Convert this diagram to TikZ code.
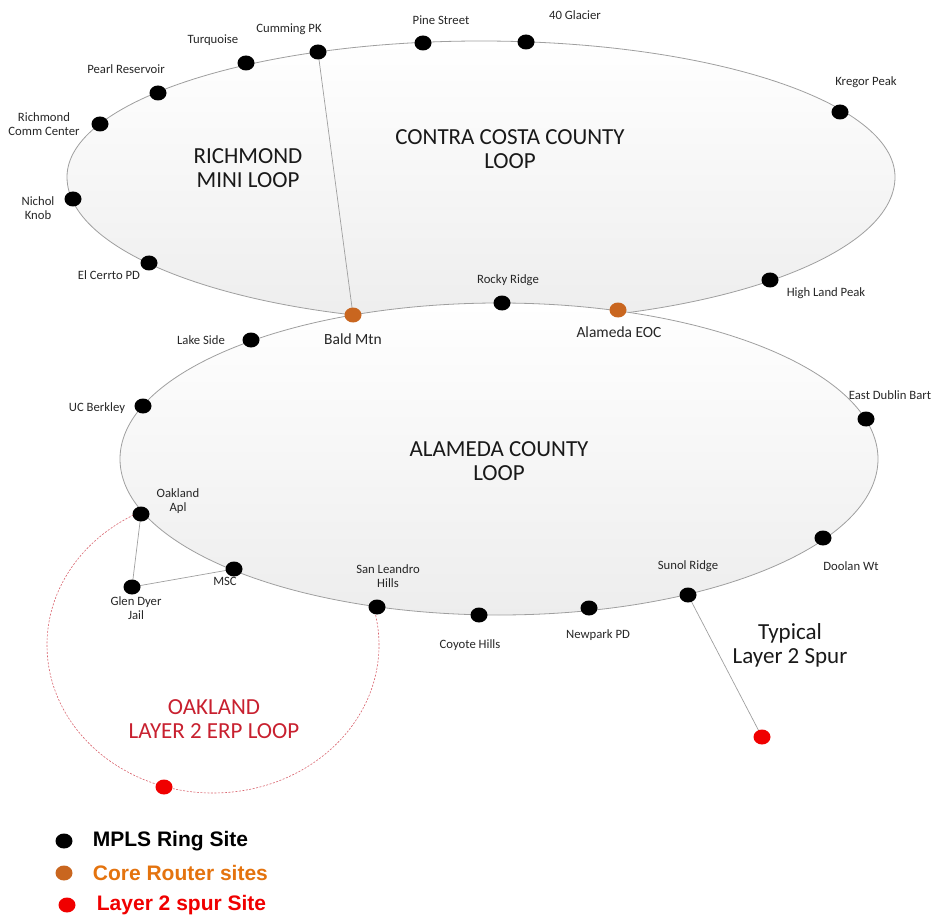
\documentclass[tikz,border=0pt]{standalone}
\usepackage{fontspec}
\setmainfont{Carlito}
\newfontfamily\legendfont{Liberation Sans}
\usetikzlibrary{shapes.geometric,positioning}

\definecolor{coreorange}{HTML}{C9661F}
\definecolor{legorange}{HTML}{E4730E}
\definecolor{erpred}{HTML}{C8202F}
\definecolor{spurred}{HTML}{F00000}

\tikzset{
  site/.style={ellipse, fill=black, minimum width=17pt, minimum height=15pt, inner sep=0pt},
  core/.style={site, fill=coreorange},
  spur/.style={site, fill=spurred},
  lbl/.style={align=center, text=black!85, inner sep=0pt, font=\fontsize{12.7}{13.5}\selectfont},
  lblcore/.style={lbl, font=\fontsize{15.5}{17}\selectfont},
  big/.style={align=center, text=black!90, inner sep=0pt, font=\fontsize{23}{24}\selectfont},
  ringarea/.style={draw=gray!75, line width=0.8pt, top color=white, bottom color=gray!14},
  erpring/.style={draw=erpred!70, line width=0.6pt, dash pattern=on 2pt off 1.5pt},
  link/.style={draw=gray!75, line width=0.7pt},
  legendtxt/.style={anchor=west, inner sep=0pt, font=\legendfont\bfseries\fontsize{21}{22}\selectfont}
}

\begin{document}
\begin{tikzpicture}[x=1pt, y=-1pt]
\useasboundingbox (0,0) rectangle (932,920);

% sites
\foreach \n/\x/\y in {bald/353/315, rocky/502/303, eoc/618/310,
  elc/149/263, nic/73/199, rcc/100/124, pearl/158/93, turq/246/63,
  cum/318/52, pine/423/43, gla/526/42, kre/840/112, hlp/770/280,
  edb/866/419, doo/823/538, sun/688/595, newp/589/608, coy/479/615,
  sanl/377/607, msc/234/569, oak/141/514, ucb/143/406, lake/251/340,
  glen/132/587, spurend/762/737, erpsite/164/787}
  \coordinate (\n) at (\x,\y);

% contra costa loop (flatter top, deeper bottom)
\path[ringarea] (67,177) arc[start angle=180, end angle=0, x radius=414pt, y radius=136pt]
  arc[start angle=0, end angle=-180, x radius=414pt, y radius=145pt] -- cycle;

% oakland ERP loop
\draw[erpring] (213,645) ellipse [x radius=166pt, y radius=148pt];

% alameda loop
\path[ringarea] (499,459) ellipse [x radius=379pt, y radius=156pt];

% links
\draw[link] (cum) -- (bald);
\draw[link] (oak) -- (glen) -- (msc);
\draw[link] (sun) -- (spurend);

% site dots
\foreach \n in {cum,pine,gla,turq,pearl,rcc,nic,elc,kre,hlp,rocky,
  lake,ucb,oak,msc,glen,sanl,coy,newp,sun,doo,edb}
  \node[site] (\n-s) at (\n) {};
\node[core] (bald-s) at (bald) {};
\node[core] (eoc-s) at (eoc) {};
\node[spur] (spurend-s) at (spurend) {};
\node[spur] (erpsite-s) at (erpsite) {};

% site names
\foreach \x/\y/\t [count=\i] in {289/29/Cumming PK, 441/20/Pine Street,
  575/15/40 Glacier, 213/40/Turquoise, 126/69/Pearl Reservoir,
  44/124/Richmond\\Comm Center, 38/208/Nichol\\Knob, 109/275/El Cerrto PD,
  866/82/Kregor Peak, 826/293/High Land Peak, 508/280/Rocky Ridge,
  201/340/Lake Side, 97/408/UC Berkley, 178/501/Oakland\\Apl, 225/581/MSC,
  136/608/Glen Dyer\\Jail, 388/576/San Leandro\\Hills, 470/645/Coyote Hills,
  598/635/Newpark PD, 688/566/Sunol Ridge, 851/566/Doolan Wt,
  890/395/East Dublin Bart}
  \node[lbl] (lab\i) at (\x,\y) {\t};
\node[lblcore] (labbald) at (353,339) {Bald Mtn};
\node[lblcore] (labeoc) at (619,332) {Alameda EOC};

% loop names
\node[big] (richmond) at (248,168) {RICHMOND\\MINI LOOP};
\node[big] (contra) at (510,149) {CONTRA COSTA COUNTY\\LOOP};
\node[big] (alameda) at (499,461) {ALAMEDA COUNTY\\LOOP};
\node[big] (typical) at (790,645) {Typical\\Layer 2 Spur};
\node[big, text=erpred] (oakland) at (214,719) {OAKLAND\\LAYER 2 ERP LOOP};

% legend
\node[site] (leg1) at (64,841) {};
\node[core] (leg2) at (64,873) {};
\node[spur] (leg3) at (67,905) {};
\node[legendtxt, text=black, right=20pt of leg1] (legt1) {MPLS Ring Site};
\node[legendtxt, text=legorange, right=20pt of leg2] (legt2) {Core Router sites};
\node[legendtxt, text=spurred, right=21pt of leg3] (legt3) {Layer 2 spur Site};
\end{tikzpicture}
\end{document}
